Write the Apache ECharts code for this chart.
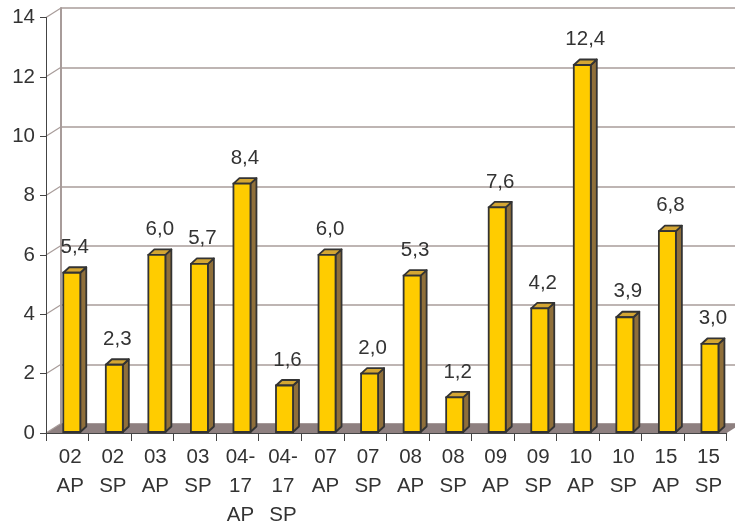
<!DOCTYPE html>
<html>
<head>
<meta charset="utf-8">
<script src="https://cdn.jsdelivr.net/npm/echarts@6/dist/echarts.min.js"></script>
<style>
html,body{margin:0;padding:0;background:#fff;}
#chart{width:735px;height:530px;}
</style>
</head>
<body>
<div id="chart"></div>
<script>
var categories = ['02\nAP','02\nSP','03\nAP','03\nSP','04-\n17\nAP','04-\n17\nSP','07\nAP','07\nSP','08\nAP','08\nSP','09\nAP','09\nSP','10\nAP','10\nSP','15\nAP','15\nSP'];
var values = [5.4, 2.3, 6.0, 5.7, 8.4, 1.6, 6.0, 2.0, 5.3, 1.2, 7.6, 4.2, 12.4, 3.9, 6.8, 3.0];
var yTicks = [0, 2, 4, 6, 8, 10, 12, 14];

var FONT = "'Liberation Sans', Arial, sans-serif";
var FS = 20.5;
var DX = 15, DY = 9.5;        // wall depth
var BDX = 6, BDY = 5.5;       // bar depth
var BW = 17, BOFF = 4.5;      // bar front width & offset

var chart = echarts.init(document.getElementById('chart'));
chart.setOption({
  animation: false,
  backgroundColor: '#fff',
  grid: [
    {left: 46, right: 8.3, top: 17.5, bottom: 97},
    {left: 61, right: 0, top: 8, bottom: 106}
  ],
  xAxis: [
    {
      type: 'category', gridIndex: 0, data: categories, z: 2,
      axisLine: {show: true, lineStyle: {color: '#444', width: 1}},
      axisTick: {show: true, alignWithLabel: false, length: 8, lineStyle: {color: '#444'}},
      axisLabel: {interval: 0, fontSize: FS, lineHeight: 29, color: '#333', fontFamily: FONT, margin: 10, padding: [0, 0, 0, 6]}
    },
    {
      type: 'category', gridIndex: 1, data: categories, show: false
    }
  ],
  yAxis: [
    {
      type: 'value', gridIndex: 0, min: 0, max: 14, interval: 2, z: 2,
      axisLine: {show: true, lineStyle: {color: '#444', width: 1}},
      axisTick: {show: true, length: 6, lineStyle: {color: '#444'}},
      axisLabel: {fontSize: FS, color: '#333', fontFamily: FONT, margin: 11},
      splitLine: {show: false}
    },
    {
      type: 'value', gridIndex: 1, min: 0, max: 14, interval: 2,
      axisLine: {show: true, lineStyle: {color: '#a89c9a', width: 2}},
      axisTick: {show: false},
      axisLabel: {show: false},
      splitLine: {show: true, lineStyle: {color: '#a89c9a', width: 1.5}}
    }
  ],
  series: [
    {
      type: 'custom', xAxisIndex: 0, yAxisIndex: 0, z: 1,
      data: [[0, 0]],
      renderItem: function (params, api) {
        var cs = params.coordSys;
        var yb = api.coord([0, 0])[1];
        return {
          type: 'polygon',
          shape: {points: [[cs.x, yb], [cs.x + cs.width, yb], [cs.x + cs.width + DX, yb - DY], [cs.x + DX, yb - DY]]},
          style: {fill: '#8e8080', stroke: null}
        };
      }
    },
    {
      type: 'custom', xAxisIndex: 0, yAxisIndex: 0, z: 1,
      data: yTicks.map(function (v) { return [0, v]; }),
      renderItem: function (params, api) {
        var cs = params.coordSys;
        var y = api.coord([0, api.value(1)])[1];
        return {
          type: 'line',
          shape: {x1: cs.x, y1: y, x2: cs.x + DX, y2: y - DY},
          style: {stroke: '#a89c9a', lineWidth: 1.2}
        };
      }
    },
    {
      type: 'custom', xAxisIndex: 0, yAxisIndex: 0, z: 3,
      data: values.map(function (v, i) { return [i, v]; }),
      renderItem: function (params, api) {
        var i = api.value(0), v = api.value(1);
        var top = api.coord([i, v]);
        var base = api.coord([i, 0]);
        var cx = top[0] + BOFF;
        var x0 = cx - BW / 2, x1 = cx + BW / 2;
        var yt = top[1], yb = base[1] - 1;
        var stroke = '#333';
        var lw = 1.8;
        var label = v.toFixed(1).replace('.', ',');
        return {
          type: 'group',
          children: [
            {type: 'polygon', shape: {points: [[x1, yt], [x1 + BDX, yt - BDY], [x1 + BDX, yb - BDY], [x1, yb]]},
             style: {fill: '#8f6f3a', stroke: stroke, lineWidth: lw, lineJoin: 'round'}},
            {type: 'polygon', shape: {points: [[x0, yt], [x0 + BDX, yt - BDY], [x1 + BDX, yt - BDY], [x1, yt]]},
             style: {fill: '#d4a633', stroke: stroke, lineWidth: lw, lineJoin: 'round'}},
            {type: 'rect', shape: {x: x0, y: yt, width: BW, height: yb - yt},
             style: {fill: '#ffcc00', stroke: stroke, lineWidth: lw}},
            {type: 'text', x: cx + BDX / 2, y: yt - BDY - 20,
             style: {text: label, fontSize: FS, fontFamily: FONT, fill: '#333', align: 'center', verticalAlign: 'middle'}}
          ]
        };
      }
    }
  ]
});
</script>
</body>
</html>
